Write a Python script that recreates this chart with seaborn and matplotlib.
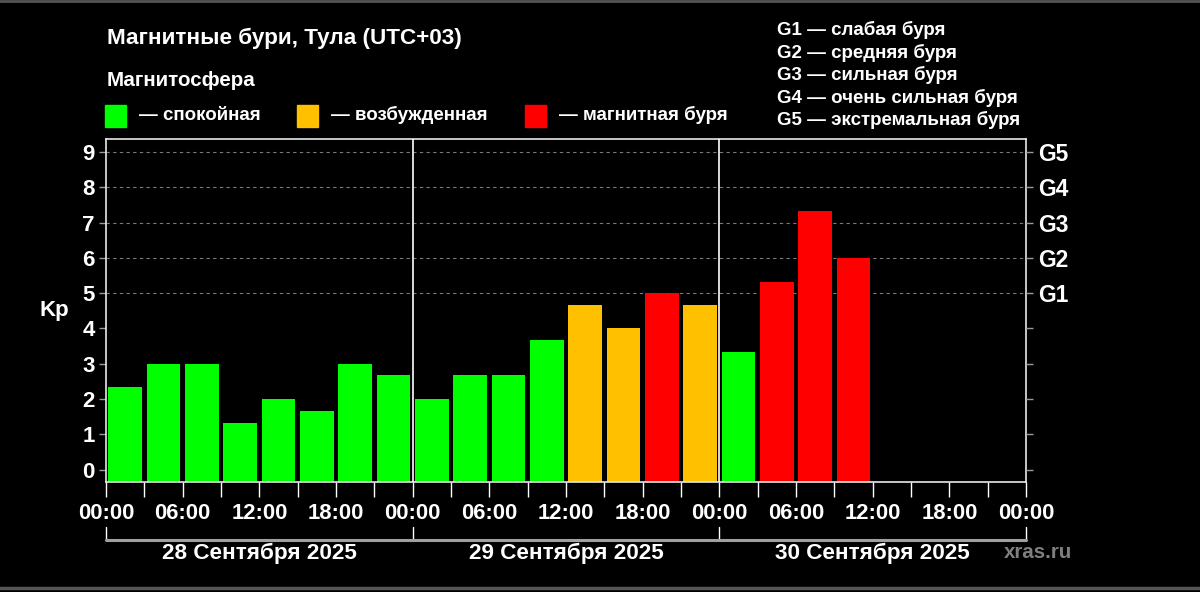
import numpy as np
import pandas as pd
import matplotlib.pyplot as plt
from matplotlib.patches import Rectangle
from matplotlib.lines import Line2D
import matplotlib.transforms as mtransforms
import seaborn as sns

sns.set_style("dark")
plt.rcParams['font.family'] = ['Liberation Sans', 'DejaVu Sans']
plt.rcParams['font.weight'] = 'bold'

# Kp по трёхчасовым интервалам (28-30 сентября), последние 4 интервала пустые
kp = [2.33, 3.0, 3.0, 1.33, 2.0, 1.67, 3.0, 2.67,
      2.0, 2.67, 2.67, 3.67, 4.67, 4.0, 5.0, 4.67,
      3.33, 5.33, 7.33, 6.0, np.nan, np.nan, np.nan, np.nan]
state = ['спокойная'] * 12 + ['возбужденная'] * 2 + ['магнитная буря', 'возбужденная'] + \
        ['спокойная'] + ['магнитная буря'] * 3 + ['спокойная'] * 4
days = ['28 Сентября 2025', '29 Сентября 2025', '30 Сентября 2025']
hour_labels = ['00:00', '', '06:00', '', '12:00', '', '18:00', '']
g_labels = ['G1', 'G2', 'G3', 'G4', 'G5']
g_text = ['G1 — слабая буря', 'G2 — средняя буря', 'G3 — сильная буря',
          'G4 — очень сильная буря', 'G5 — экстремальная буря']
colors = {'спокойная': '#00ff00', 'возбужденная': '#ffc000', 'магнитная буря': '#ff0000'}

df = pd.DataFrame({'slot': list(range(24)), 'kp': kp, 'state': state})

fig = plt.figure(figsize=(12, 5.92), dpi=100, facecolor='black')
ax = fig.add_axes([106 / 1200, 1 - 482 / 592, 920 / 1200, 343 / 592])
ax.set_facecolor('black')

sns.barplot(data=df, x='slot', y='kp', hue='state', palette=colors, dodge=False, saturation=1,
            width=0.88, order=list(range(24)), legend=False, ax=ax, edgecolor='none', zorder=2)

ylo, yhi = -0.35, 9.37
ax.set_ylim(ylo, yhi)
ax.set_xlim(-0.5, 23.5)
# столбцы начинаются от нижней границы области
for p in ax.patches:
    h = p.get_height()
    if np.isfinite(h):
        p.set_y(ylo)
        p.set_height(h - ylo)

for lvl in range(5, 10):
    ax.axhline(lvl, color='#7a7a7a', lw=0.8, ls=(0, (3, 3)), zorder=0)
for sep in [7.5, 15.5]:
    ax.axvline(sep, color='white', lw=1.2, zorder=3)

for s in ax.spines.values():
    s.set_color('#e8e8e8')
    s.set_linewidth(1.2)
    s.set_visible(True)

ax.set_yticks(range(10))
ax.set_yticklabels([str(i) for i in range(10)])
ax.tick_params(axis='y', colors='#9a9a9a', labelcolor='white', labelsize=16, length=5, width=1,
               left=True, pad=3)
ax.set_ylabel('Kp', color='white', fontsize=16, fontweight='bold', rotation=0, labelpad=20, va='center')

ticks = np.arange(-0.5, 24, 1)
ax.set_xticks(ticks)
ax.set_xticklabels(hour_labels * 3 + ['00:00'])
ax.tick_params(axis='x', colors='white', labelcolor='white', labelsize=15.8, length=11, width=1,
               bottom=True, pad=4)
ax.set_xlabel('')
ax.grid(False)

ax2 = ax.twinx()
ax2.set_ylim(ylo, yhi)
ax2.set_yticks(range(10))
ax2.set_yticklabels([''] * 5 + g_labels)
ax2.tick_params(axis='y', colors='#9a9a9a', labelcolor='white', labelsize=16.5, length=5, width=1,
                right=True, pad=4)
for s in ax2.spines.values():
    s.set_visible(False)
ax2.grid(False)

# скобки под датами
tr = mtransforms.blended_transform_factory(ax.transData, ax.transAxes)
y_top, y_bot = (482 - 527) / 343, (482 - 540) / 343
for xb in [-0.5, 7.5, 15.5, 23.5]:
    ax.add_line(Line2D([xb, xb], [y_top, y_bot], transform=tr, color='white', lw=1, clip_on=False))
ax.add_line(Line2D([-0.5, 23.5], [y_bot, y_bot], transform=tr, color='#a0a0a0', lw=2.2, clip_on=False))
for i, d in enumerate(days):
    ax.text(3.5 + 8 * i, (482 - 553) / 343, d, transform=tr, ha='center', va='center',
            color='white', fontsize=16.2, fontweight='bold')
fig.text(1004 / 1200, 1 - 553 / 592, 'xras.ru', color='#7f7f7f', fontsize=14.8, va='center')

# заголовок и легенда
fig.text(107 / 1200, 1 - 38 / 592, 'Магнитные бури, Тула (UTC+03)', color='white',
         fontsize=16.2, va='center', fontweight='bold')
fig.text(107 / 1200, 1 - 80 / 592, 'Магнитосфера', color='white', fontsize=14.8,
         va='center', fontweight='bold')
leg_x = [105, 297, 525]
for xl, (name, col) in zip(leg_x, colors.items()):
    fig.patches.append(Rectangle((xl / 1200, 1 - 127 / 592), 21 / 1200, 22 / 592,
                                 transform=fig.transFigure, color=col))
    fig.text((xl + 34) / 1200, 1 - 115 / 592, '— ' + name, color='white', fontsize=13.5,
             va='center', fontweight='bold')
for i, t in enumerate(g_text):
    fig.text(777 / 1200, 1 - (30 + 22.6 * i) / 592, t, color='white', fontsize=13.5,
             va='center', fontweight='bold')

# серые полосы сверху и снизу
fig.add_artist(Line2D([0, 1], [1 - 1 / 592, 1 - 1 / 592], transform=fig.transFigure, color='#555555', lw=2))
fig.add_artist(Line2D([0, 1], [1 - 588 / 592, 1 - 588 / 592], transform=fig.transFigure, color='#555555', lw=2.5))

fig.savefig('out.png', dpi=100, facecolor='black')
